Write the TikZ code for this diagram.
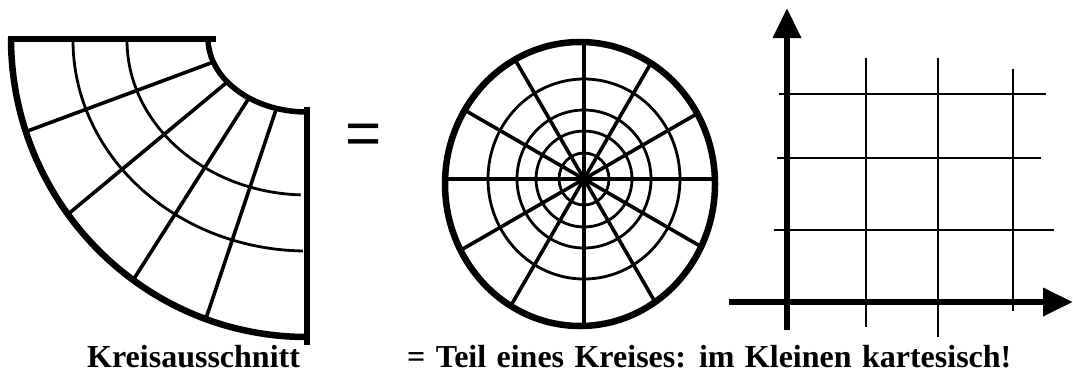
\documentclass[tikz,border=0pt]{standalone}
\usepackage{fontspec}
\setmainfont{Liberation Serif}
\newfontfamily\eqfont{Liberation Sans}
\usetikzlibrary{arrows.meta,calc}
\begin{document}
\begin{tikzpicture}[x=1pt,y=-1pt,
  thickline/.style={line width=6.5pt},
  edgeline/.style={line width=5.5pt},
  midline/.style={line width=3.6pt},
  thinline/.style={line width=2.8pt},
  axisline/.style={line width=6.5pt,-{Triangle[length=30pt,width=27pt]}},
  lbl/.style={font=\bfseries\fontsize{32}{36}\selectfont, inner sep=0pt, text depth=0pt, anchor=base west}]
\useasboundingbox (0,0) rectangle (1073,372);
% ---- sector ----
\coordinate (C) at (307,40);
\draw[edgeline] (8,39) -- (216,39);
\draw[thickline] (11,38) arc[start angle=180,end angle=90,x radius=296,y radius=299];
\draw[thinline] (73,40) arc[start angle=180,end angle=91,x radius=234,y radius=211];
\draw[thinline] (127,40) arc[start angle=180,end angle=92,x radius=180,y radius=155];
\draw[edgeline] (208,38) arc[start angle=180,end angle=90,x radius=99,y radius=74];
\draw[edgeline] (307,107) -- (307,345);
\foreach \a/\b in {162/162,144/144,126/126,110/108}
  \draw[midline] ($(C)+(\a:296 and 297)$) -- ($(C)+(\b:99 and 72)$);
% ---- equals ----
\node[font=\eqfont\fontsize{62}{70}\selectfont, inner sep=0pt] (eq) at (364,139) {=};
% ---- circle ----
\coordinate (O) at (580,184);
\coordinate (P) at (584,179);
\begin{scope}
  \clip (O) ellipse[x radius=135,y radius=142];
  \foreach \a in {0,30,...,150}
    \draw[midline] ($(P)+(\a:170)$) -- ($(P)+(\a+180:170)$);
\end{scope}
\foreach \r/\s in {25/26,48/48,67/69,96/100}
  \draw[thinline] (P) ellipse[x radius=\r,y radius=\s];
\draw[thickline] (O) ellipse[x radius=135,y radius=142];
% ---- grid ----
\draw[thinline] (866,58) -- (866,327);
\draw[thinline] (938,58) -- (938,337);
\draw[thinline] (1013,69) -- (1013,311);
\draw[thinline] (779,94) -- (1046,94);
\draw[thinline] (777,158) -- (1041,158);
\draw[thinline] (774,230) -- (1054,230);
\coordinate (ya0) at (787,330);
\coordinate (ya1) at (787,8);
\coordinate (xa0) at (729,302);
\coordinate (xa1) at (1073,302);
\draw[axisline] (ya0) -- (ya1);
\draw[axisline] (xa0) -- (xa1);
% ---- labels ----
\node[lbl] (t1) at (87,367) {Kreisausschnitt};
\node[lbl] (t2) at (407,367) {\spaceskip=10.4pt\relax = Teil eines Kreises: im Kleinen kartesisch!};
\end{tikzpicture}
\end{document}
